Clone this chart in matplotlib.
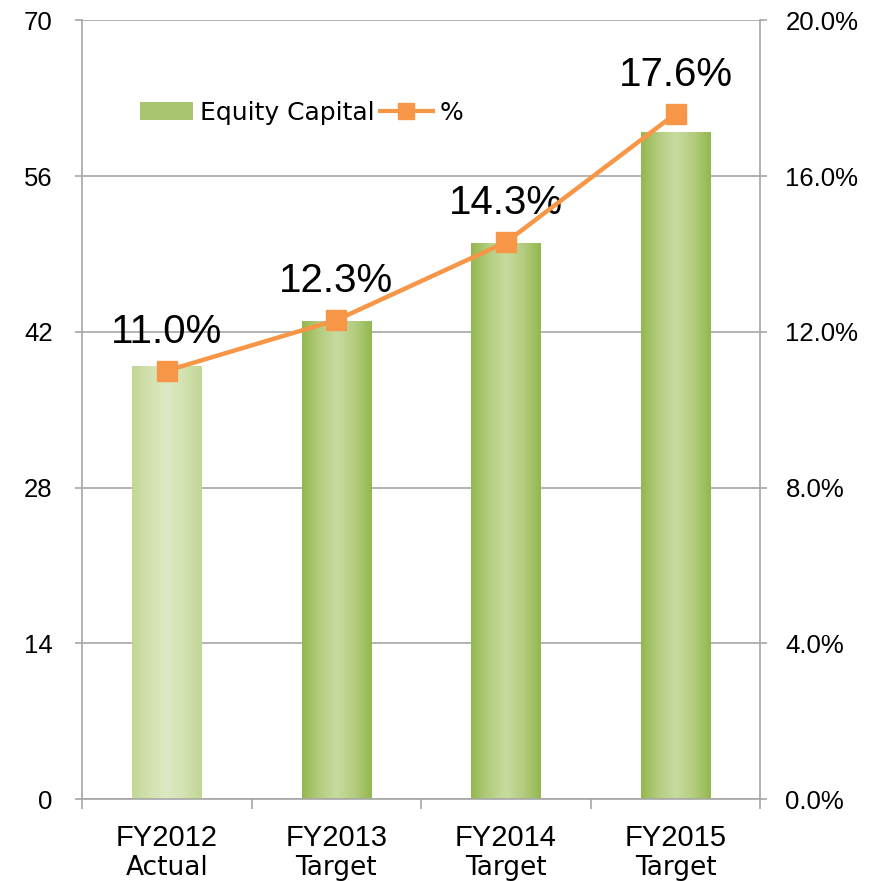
import matplotlib.pyplot as plt
import numpy as np
from matplotlib.colors import LinearSegmentedColormap
from matplotlib.patches import Rectangle
from matplotlib.lines import Line2D
from matplotlib.ticker import FuncFormatter

years = ["FY2012", "FY2013", "FY2014", "FY2015"]
kinds = ["Actual", "Target", "Target", "Target"]
equity = [38.9, 42.9, 49.9, 59.9]
ratio = [11.0, 12.3, 14.3, 17.6]

gray = "#a6a6a6"
orange = "#f79646"

fig = plt.figure(figsize=(8.72, 8.81), dpi=100)
ax = fig.add_axes([0.094, 0.093, 0.778, 0.884])
ax2 = ax.twinx()

# gradient bars
cm_dark = LinearSegmentedColormap.from_list("g", ["#94b850", "#b4cd80", "#c8dba0", "#b4cd80", "#94b850"])
cm_light = LinearSegmentedColormap.from_list("gl", ["#c2d696", "#d2e2b0", "#dde9c4", "#d2e2b0", "#c2d696"])
grad = np.linspace(0, 1, 64).reshape(1, -1)
w = 0.41
x = np.arange(len(years))
for i, v in enumerate(equity):
    cmap = cm_light if i == 0 else cm_dark
    ax.imshow(grad, cmap=cmap, extent=(x[i] - w / 2, x[i] + w / 2, 0, v),
              aspect="auto", zorder=2, interpolation="bicubic")

ax.set_xlim(-0.5, 3.5)
ax.set_ylim(0, 70)
ax.set_yticks(range(0, 71, 14))
ax.yaxis.grid(True, color=gray, linewidth=1.2)
ax.set_axisbelow(True)

ax.set_xticks(x)
ax.set_xticklabels(years, fontsize=21, family="Liberation Sans")
ax.set_xticks(np.arange(-0.5, 3.6, 1), minor=True)
ax.tick_params(axis="x", which="major", length=0, pad=18)
ax.tick_params(axis="x", which="minor", length=7, color=gray, width=1.2)
ax.tick_params(axis="y", length=5, color=gray, width=1.2, pad=16, labelsize=18.5)
for t in ax.get_yticklabels():
    t.set_family("Liberation Sans")

# second line of category labels
for xi, k in zip(x, kinds):
    ax.text(xi, -0.0976, k, transform=ax.get_xaxis_transform(), ha="center",
            va="baseline", fontsize=19, family="DejaVu Sans")

for s in ["top", "right"]:
    ax.spines[s].set_visible(False)
ax.spines["left"].set_color(gray)
ax.spines["bottom"].set_color(gray)
ax.spines["left"].set_linewidth(1.2)
ax.spines["bottom"].set_linewidth(1.2)

# line on right axis
ax2.plot(x, ratio, color=orange, linewidth=3.2, marker="s", markersize=14, zorder=5)
ax2.set_ylim(0, 20)
ax2.set_yticks(np.arange(0, 20.1, 4))
ax2.yaxis.set_major_formatter(FuncFormatter(lambda v, p: f"{v:.1f}%"))
ax2.tick_params(axis="y", length=5, color=gray, width=1.2, pad=13, labelsize=18.5)
for t in ax2.get_yticklabels():
    t.set_family("Liberation Sans")
for s in ["top", "left", "bottom"]:
    ax2.spines[s].set_visible(False)
ax2.spines["right"].set_color(gray)
ax2.spines["right"].set_linewidth(1.2)

for xi, r in zip(x, ratio):
    ax2.annotate(f"{r:.1f}%", (xi, r), xytext=(0, 20), textcoords="offset points",
                 ha="center", va="baseline", fontsize=29, family="Liberation Sans")

handles = [Rectangle((0, 0), 1, 1, facecolor="#a9c66e", edgecolor="none"),
           Line2D([], [], color=orange, linewidth=3, marker="s", markersize=12)]
ax2.legend(handles, ["Equity Capital", "%"], loc="center left", bbox_to_anchor=(0.053, 0.881),
           ncol=2, frameon=False, handlelength=2.1, handletextpad=0.3,
           columnspacing=0.2, prop={"family": "DejaVu Sans", "size": 18})

fig.savefig("out.png", dpi=100)
